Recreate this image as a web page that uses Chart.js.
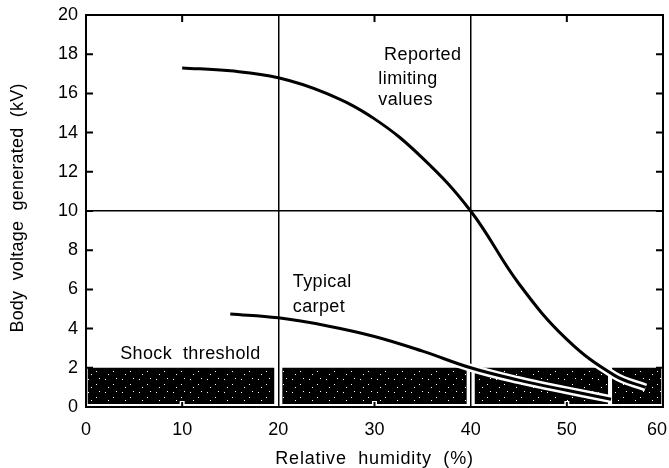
<!DOCTYPE html>
<html>
<head>
<meta charset="utf-8">
<script src="https://cdn.jsdelivr.net/npm/chart.js@4.4.1/dist/chart.umd.min.js"></script>
<style>
  html, body { margin: 0; padding: 0; background: #fff; }
  #wrap { width: 669px; height: 468px; }
</style>
</head>
<body>
<div id="wrap"><canvas id="chart"></canvas></div>
<script>
// values
var reportedHumidity = [10, 15, 20, 25, 30, 35, 40, 45, 50, 55, 58.2];
var reportedKV = [17.3, 17.15, 16.8, 16.0, 14.7, 12.7, 10.0, 6.3, 3.45, 1.6, 1.0];
var carpetHumidity = [15, 20, 25, 30, 35, 40, 45, 50, 54.6];
var carpetKV = [4.75, 4.55, 4.15, 3.6, 2.85, 2.0, 1.37, 0.85, 0.4];
var shockThreshold = 2;
var bandPieces = [[0.15, 19.6], [20.4, 39.6], [40.4, 54.3], [54.7, 59.85]];
var xTickLabels = [0, 10, 20, 30, 40, 50, 60];
var xGridAt = [20, 40];
var yGridAt = [10];
var xMinorTicks = [10, 30, 50];

var font = "'Liberation Sans', Arial, sans-serif";

function pts(xs, ys) {
	return xs.map(function(x, i) { return {x: x, y: ys[i]}; });
}

// speckled black for the threshold band
function speckle() {
	var c = document.createElement('canvas');
	c.width = 17; c.height = 13;
	var g = c.getContext('2d');
	g.fillStyle = '#000';
	g.fillRect(0, 0, 17, 13);
	g.fillStyle = '#fff';
	g.fillRect(3, 2, 1, 1);
	g.fillRect(11, 7, 1, 1);
	g.fillRect(6, 10, 1, 1);
	g.fillRect(14, 1, 1, 1);
	return g.createPattern(c, 'repeat');
}
var bandFill = speckle();

var datasets = [];
bandPieces.forEach(function(p) {
	datasets.push({
		data: [{x: p[0], y: shockThreshold}, {x: p[1], y: shockThreshold}],
		borderWidth: 0, pointRadius: 0, tension: 0,
		backgroundColor: bandFill, fill: {value: 0.15}, order: 10
	});
});

function halo(d) {
	return {
		data: d, borderColor: '#fff', borderWidth: 8, pointRadius: 0,
		tension: 0.4, fill: false, order: 5,
		segment: {
			borderColor: function(ctx) {
				return (ctx.p0.parsed.y > 2.8 && ctx.p1.parsed.y > 2.8) ? 'rgba(0,0,0,0)' : '#fff';
			}
		}
	};
}
function curve(d) {
	return {
		data: d, borderColor: '#000', borderWidth: 3, pointRadius: 0,
		tension: 0.4, fill: false, order: 1
	};
}
datasets.push(halo(pts(reportedHumidity, reportedKV)));
datasets.push(halo(pts(carpetHumidity, carpetKV)));
datasets.push(curve(pts(reportedHumidity, reportedKV)));
datasets.push(curve(pts(carpetHumidity, carpetKV)));

var notes = [
	{text: 'Reported', x: 31.0, y: 17.95},
	{text: 'limiting', x: 30.4, y: 16.75},
	{text: 'values', x: 30.4, y: 15.65},
	{text: 'Typical', x: 21.5, y: 6.4},
	{text: 'carpet', x: 21.5, y: 5.1},
	{text: 'Shock  threshold', x: 3.55, y: 2.7}
];

var frame = {
	id: 'frame',
	afterDatasetsDraw: function(chart) {
		var c = chart.ctx, a = chart.chartArea;
		var sx = chart.scales.x, sy = chart.scales.y;
		c.save();
		c.strokeStyle = '#000';
		c.lineCap = 'butt';
		// inward ticks
		c.lineWidth = 2;
		for (var v = 2; v < 20; v += 2) {
			var py = sy.getPixelForValue(v);
			c.beginPath();
			c.moveTo(a.left, py); c.lineTo(a.left + 7, py);
			c.moveTo(a.right, py); c.lineTo(a.right - 7, py);
			c.stroke();
		}
		xMinorTicks.forEach(function(v) {
			var px = sx.getPixelForValue(v);
			c.beginPath();
			c.moveTo(px, a.top); c.lineTo(px, a.top + 7);
			c.stroke();
			c.strokeStyle = '#fff'; c.lineWidth = 5;
			c.beginPath(); c.moveTo(px, a.bottom); c.lineTo(px, a.bottom - 6); c.stroke();
			c.strokeStyle = '#000'; c.lineWidth = 2;
			c.beginPath(); c.moveTo(px, a.bottom); c.lineTo(px, a.bottom - 5); c.stroke();
		});
		// frame
		c.lineWidth = 2;
		c.strokeRect(a.left, a.top, a.right - a.left, a.bottom - a.top);
		c.fillStyle = '#000';
		c.font = '18px ' + font;
		c.textBaseline = 'middle';
		// x tick labels (last one kept inside the canvas)
		c.textAlign = 'center';
		xTickLabels.forEach(function(v) {
			var s = String(v), w = c.measureText(s).width;
			var px = Math.min(sx.getPixelForValue(v), chart.width - w / 2 - 2);
			c.fillText(s, px, a.bottom + 23);
		});
		// notes
		c.letterSpacing = '0.4px';
		c.textAlign = 'left';
		notes.forEach(function(n) {
			c.fillText(n.text, sx.getPixelForValue(n.x), sy.getPixelForValue(n.y));
		});
		// axis titles
		c.letterSpacing = '0.8px';
		c.textAlign = 'center';
		c.fillText('Relative  humidity  (%)', (a.left + a.right) / 2, 459);
		c.letterSpacing = '0.2px';
		c.translate(18, (a.top + a.bottom) / 2 - 3);
		c.rotate(-Math.PI / 2);
		c.fillText('Body  voltage  generated  (kV)', 0, 0);
		c.restore();
	}
};

new Chart(document.getElementById('chart'), {
	type: 'line',
	data: {datasets: datasets},
	options: {
		responsive: true,
		maintainAspectRatio: false,
		animation: false,
		layout: {padding: {left: 0, right: 6, top: 15, bottom: 0}},
		plugins: {legend: {display: false}, tooltip: {enabled: false}},
		scales: {
			x: {
				type: 'linear', min: 0, max: 60,
				afterFit: function(s) { s.height = 61; s.paddingLeft = 0; s.paddingRight = 0; },
				ticks: {display: false, stepSize: 10},
				grid: {
					drawTicks: false, lineWidth: 1.5,
					color: function(ctx) { return xGridAt.indexOf(ctx.tick && ctx.tick.value) >= 0 ? '#000' : 'rgba(0,0,0,0)'; }
				},
				border: {display: false}
			},
			y: {
				type: 'linear', min: 0, max: 20,
				afterFit: function(s) { s.width = 86; s.paddingTop = 0; s.paddingBottom = 0; },
				ticks: {stepSize: 2, color: '#000', padding: 8, font: {family: font, size: 18}},
				grid: {
					drawTicks: false, lineWidth: 1.5,
					color: function(ctx) { return yGridAt.indexOf(ctx.tick && ctx.tick.value) >= 0 ? '#000' : 'rgba(0,0,0,0)'; }
				},
				border: {display: false}
			}
		}
	},
	plugins: [frame]
});
</script>
</body>
</html>
